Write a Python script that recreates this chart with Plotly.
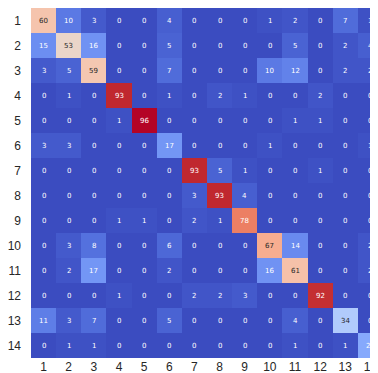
import plotly.graph_objects as go

labels = list(range(1, 15))

matrix = [
    [60, 10, 3, 0, 0, 4, 0, 0, 0, 1, 2, 0, 7, 1],
    [15, 53, 16, 0, 0, 5, 0, 0, 0, 0, 5, 0, 2, 4],
    [3, 5, 59, 0, 0, 7, 0, 0, 0, 10, 12, 0, 2, 2],
    [0, 1, 0, 93, 0, 1, 0, 2, 1, 0, 0, 2, 0, 0],
    [0, 0, 0, 1, 96, 0, 0, 0, 0, 0, 1, 1, 0, 0],
    [3, 3, 0, 0, 0, 17, 0, 0, 0, 1, 0, 0, 0, 1],
    [0, 0, 0, 0, 0, 0, 93, 5, 1, 0, 0, 1, 0, 0],
    [0, 0, 0, 0, 0, 0, 3, 93, 4, 0, 0, 0, 0, 0],
    [0, 0, 0, 1, 1, 0, 2, 1, 78, 0, 0, 0, 0, 0],
    [0, 3, 8, 0, 0, 6, 0, 0, 0, 67, 14, 0, 0, 2],
    [0, 2, 17, 0, 0, 2, 0, 0, 0, 16, 61, 0, 0, 2],
    [0, 0, 0, 1, 0, 0, 2, 2, 3, 0, 0, 92, 0, 0],
    [11, 3, 7, 0, 0, 5, 0, 0, 0, 0, 4, 0, 34, 0],
    [0, 1, 1, 0, 0, 0, 0, 0, 0, 0, 1, 0, 1, 22],
]

cw = [
    (59, 76, 192), (68, 90, 204), (77, 104, 215), (87, 117, 225), (98, 130, 234),
    (108, 142, 241), (119, 154, 247), (130, 165, 251), (141, 176, 254), (152, 185, 255),
    (163, 194, 255), (174, 201, 253), (184, 208, 249), (195, 213, 244), (204, 217, 238),
    (213, 219, 230), (221, 221, 221), (229, 216, 209), (236, 211, 197), (241, 204, 185),
    (245, 196, 173), (247, 187, 160), (247, 177, 148), (247, 166, 135), (244, 154, 123),
    (241, 141, 111), (236, 127, 99), (229, 112, 88), (222, 96, 77), (213, 80, 66),
    (203, 62, 56), (192, 40, 47), (180, 4, 38),
]
n = len(cw) - 1
colorscale = [[i / n, "rgb(%d,%d,%d)" % c] for i, c in enumerate(cw)]

zmin, zmax = 0, max(max(r) for r in matrix)


def color_at(v):
    t = (v - zmin) / (zmax - zmin) * n
    i = min(int(t), n - 1)
    f = t - i
    return tuple(cw[i][k] + (cw[i + 1][k] - cw[i][k]) * f for k in range(3))


def lum(c):
    def ch(x):
        x = x / 255
        return x / 12.92 if x <= 0.03928 else ((x + 0.055) / 1.055) ** 2.4
    r, g, b = (ch(x) for x in c)
    return 0.2126 * r + 0.7152 * g + 0.0722 * b


fig = go.Figure(go.Heatmap(
    z=matrix, x=labels, y=labels,
    colorscale=colorscale, zmin=zmin, zmax=zmax,
    showscale=False, xgap=0, ygap=0,
))

annotations = []
for ri, row in enumerate(matrix):
    for ci, v in enumerate(row):
        tc = "#262626" if lum(color_at(v)) > 0.408 else "white"
        annotations.append(dict(
            x=labels[ci], y=labels[ri], text=str(v), showarrow=False,
            font=dict(size=7, color=tc, family="DejaVu Sans"),
        ))

fig.update_layout(
    width=378, height=365,
    margin=dict(l=23, r=3, t=0, b=15),
    paper_bgcolor="white", plot_bgcolor="white",
    annotations=annotations,
    font=dict(family="Liberation Sans, Arial, sans-serif", size=12, color="#262626"),
)
fig.update_xaxes(range=[0.5, 14.5], tickvals=labels, showgrid=False, zeroline=False,
                 ticks="", ticklabelstandoff=0, showline=False)
fig.update_yaxes(range=[14.5, 0.5], tickvals=labels, showgrid=False, zeroline=False,
                 ticks="", ticklabelstandoff=9, showline=False)

fig.write_html("out.html")
